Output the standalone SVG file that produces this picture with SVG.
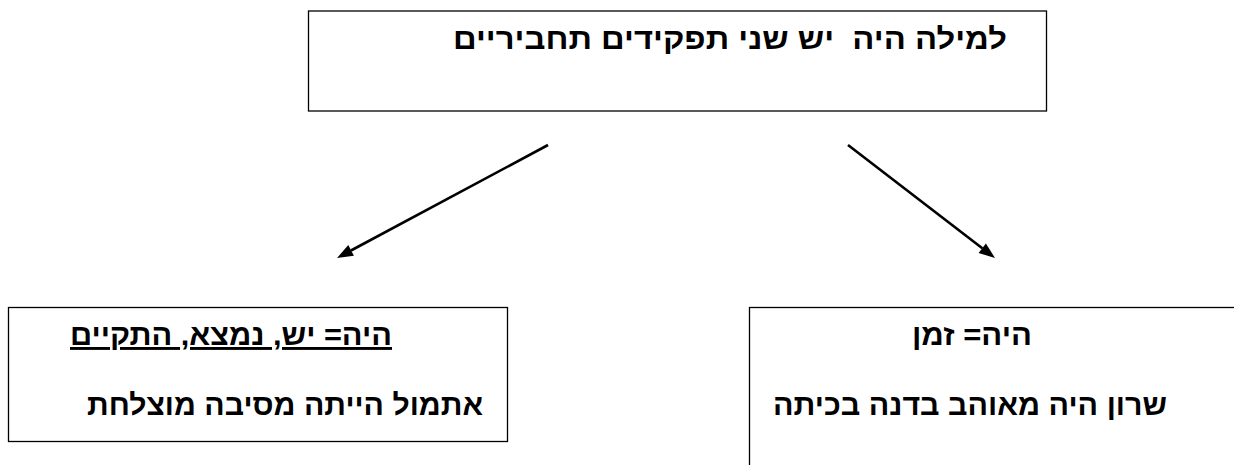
<svg xmlns="http://www.w3.org/2000/svg" width="1234" height="465" viewBox="0 0 1234 465">
<style>
.box{fill:#fff;stroke:#000;stroke-width:1.3}
.t{font-family:"Liberation Sans",Arial,sans-serif;font-weight:bold;font-size:29px;fill:#000;direction:rtl;unicode-bidi:embed;text-anchor:start;white-space:pre}
.u{text-decoration:underline;text-decoration-skip-ink:none}
.ln{stroke:#000;stroke-width:2.6;fill:none}
.head{fill:#000}
</style>
<rect width="1234" height="465" fill="#fff"/>
<g id="top">
<rect class="box" x="308.5" y="11" width="738" height="100"/>
<text class="t" x="1007" y="49" xml:space="preserve" textLength="554" lengthAdjust="spacingAndGlyphs">למילה היה  יש שני תפקידים תחביריים</text>
</g>
<g id="left">
<rect class="box" x="8.5" y="307.5" width="499" height="134"/>
<text class="t u" x="392" y="345" textLength="322" lengthAdjust="spacingAndGlyphs">היה= יש, נמצא, התקיים</text>
<text class="t" x="483" y="415" textLength="396" lengthAdjust="spacingAndGlyphs">אתמול הייתה מסיבה מוצלחת</text>
</g>
<g id="right">
<rect class="box" x="749.5" y="307.5" width="500" height="170"/>
<text class="t" x="1032" y="345" textLength="120" lengthAdjust="spacingAndGlyphs">היה= זמן</text>
<text class="t" x="1167" y="415" textLength="394" lengthAdjust="spacingAndGlyphs">שרון היה מאוהב בדנה בכיתה</text>
</g>
<g id="connectors">
<line class="ln" x1="548" y1="145" x2="351" y2="250.5"/>
<polygon class="head" points="337,258 353.9,255.7 348.3,245.1"/>
<line class="ln" x1="848" y1="145" x2="982.3" y2="248.3"/>
<polygon class="head" points="995,258 978.6,253 985.9,243.5"/>
</g>
</svg>
